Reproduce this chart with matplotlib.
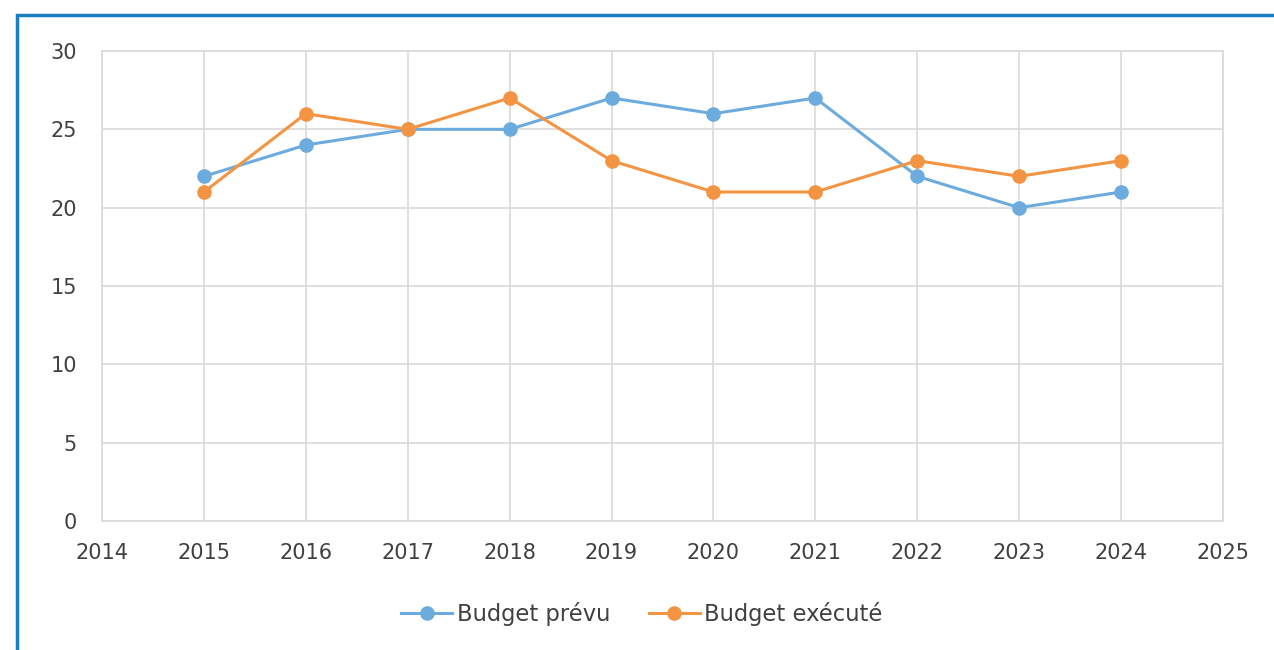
import numpy as np
import matplotlib.pyplot as plt
from matplotlib.patches import Rectangle

years = [2015, 2016, 2017, 2018, 2019, 2020, 2021, 2022, 2023, 2024]
budget_prevu = [22, 24, 25, 25, 27, 26, 27, 22, 20, 21]
budget_execute = [21, 26, 25, 27, 23, 21, 21, 23, 22, 23]

blue = '#6CABDD'
orange = '#F39442'
grid_col = '#D9D9D9'

plt.rcParams['font.family'] = ['DejaVu Sans']

fig = plt.figure(figsize=(12.74, 6.5), dpi=100)
ax = fig.add_axes([102 / 1274, 1 - 521 / 650, (1223 - 102) / 1274, (521 - 51) / 650])

ax.plot(years, budget_prevu, color=blue, lw=2.2, marker='o', ms=9.5, label='Budget prévu')
ax.plot(years, budget_execute, color=orange, lw=2.2, marker='o', ms=9.5, label='Budget exécuté')

ax.set_xlim(2014, 2025)
ax.set_ylim(0, 30)
ax.set_xticks(np.arange(2014, 2026))
ax.set_yticks(np.arange(0, 31, 5))
ax.grid(True, color=grid_col, lw=1.2)
ax.set_axisbelow(True)
for s in ax.spines.values():
    s.set_color(grid_col)
    s.set_linewidth(1.2)
ax.tick_params(length=0, labelsize=15, colors='#404040')
ax.tick_params(axis='x', pad=16)
ax.tick_params(axis='y', pad=18)

fig.legend(loc='center', bbox_to_anchor=(0.5 + 5 / 1274, 1 - 614 / 650), ncol=2, frameon=False,
           fontsize=16.3, handlelength=2.25, handletextpad=0.2, columnspacing=1.7,
           labelcolor='#404040')

# blue frame around the chart
fig.patches.append(Rectangle((17 / 1274, -0.1), 1.2, 1 - 15 / 650 + 0.1,
                             transform=fig.transFigure, fill=False,
                             edgecolor='#1A7EC2', lw=2.5))

fig.savefig('out.png', dpi=100)
